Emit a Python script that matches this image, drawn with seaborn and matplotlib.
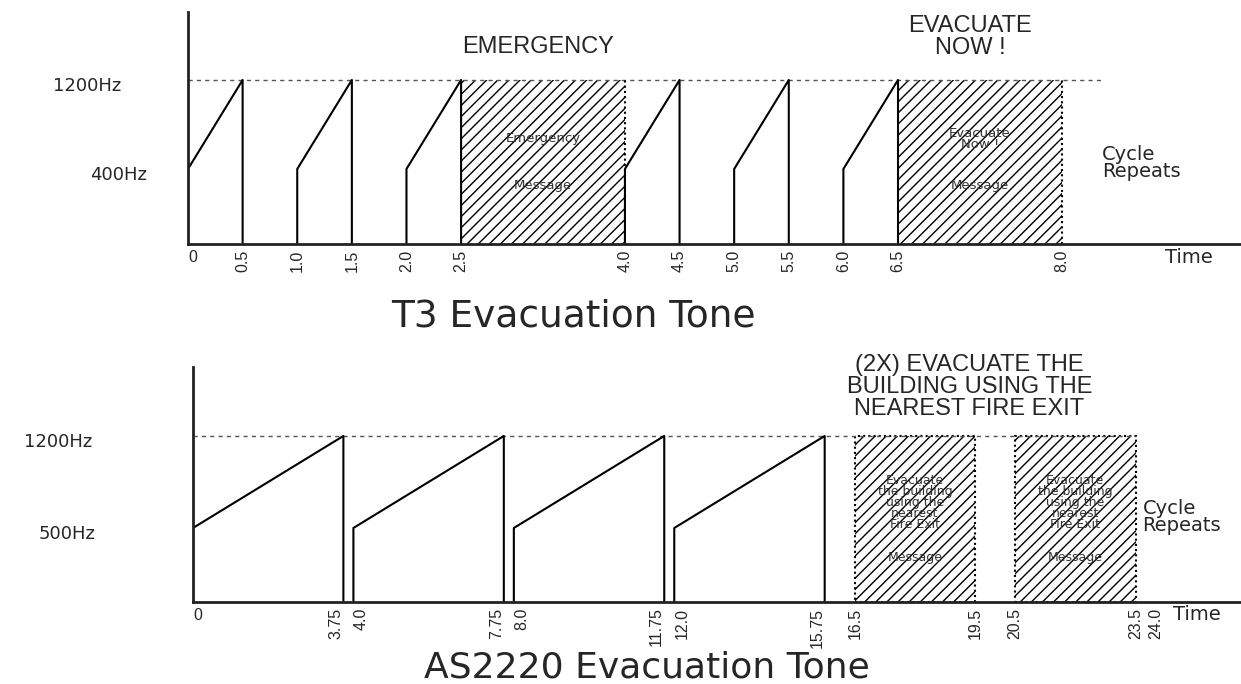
import pandas as pd
import matplotlib
matplotlib.use("Agg")
import matplotlib.pyplot as plt
import matplotlib.transforms as mtransforms
import seaborn as sns

# --- T3 evacuation tone ---
t3_ramp_start = [0.0, 1.0, 2.0, 4.0, 5.0, 6.0]
t3_ramp_end = [0.5, 1.5, 2.5, 4.5, 5.5, 6.5]
t3_low_hz = 400
t3_high_hz = 1200
t3_msg_start = [2.5, 6.5]
t3_msg_end = [4.0, 8.0]
t3_msg_text = ["Emergency", "Evacuate\nNow !"]
t3_ticks = [0, 0.5, 1.0, 1.5, 2.0, 2.5, 4.0, 4.5, 5.0, 5.5, 6.0, 6.5, 8.0]
t3_tick_labels = ["0", "0.5", "1.0", "1.5", "2.0", "2.5", "4.0", "4.5",
                  "5.0", "5.5", "6.0", "6.5", "8.0"]
t3_level_labels = ["400Hz", "1200Hz"]
t3_headings = ["EMERGENCY", "EVACUATE\nNOW !"]
t3_title = "T3 Evacuation Tone"

# --- AS2220 evacuation tone ---
as_ramp_start = [0.0, 4.0, 8.0, 12.0]
as_ramp_end = [3.75, 7.75, 11.75, 15.75]
as_low_hz = 500
as_high_hz = 1200
as_msg_start = [16.5, 20.5]
as_msg_end = [19.5, 23.5]
as_msg_text = "Evacuate\nthe building\nusing the\nnearest\nFire Exit"
as_ticks = [0, 3.75, 4.0, 7.75, 8.0, 11.75, 12.0, 15.75, 16.5, 19.5, 20.5, 23.5, 24.0]
as_tick_labels = ["0", "3.75", "4.0", "7.75", "8.0", "11.75", "12.0", "15.75",
                  "16.5", "19.5", "20.5", "23.5", "24.0"]
as_level_labels = ["500Hz", "1200Hz"]
as_heading = "(2X) EVACUATE THE\nBUILDING USING THE\nNEAREST FIRE EXIT"
as_title = "AS2220 Evacuation Tone"


def ramp_frame(starts, ends, low, high, base):
    rows = []
    for i, (s, e) in enumerate(zip(starts, ends)):
        rows += [(i, s, base), (i, s, low), (i, e, high), (i, e, base)]
    return pd.DataFrame(rows, columns=["seg", "t", "hz"])


sns.set_style("white")
plt.rcParams["font.family"] = ["Liberation Sans", "DejaVu Sans"]
plt.rcParams["hatch.linewidth"] = 1.0

fig = plt.figure(figsize=(12.41, 6.84), dpi=100)
ax1 = fig.add_axes([0.1515, 0.6433, 0.8485, 0.3392])
ax2 = fig.add_axes([0.1555, 0.1199, 0.8445, 0.3436])


def style_axes(ax, xlim, ylim, ticks, labels, drops=()):
    ax.set_xlim(*xlim)
    ax.set_ylim(*ylim)
    ax.set_xlabel("")
    ax.set_ylabel("")
    ax.set_yticks([])
    ax.set_xticks(ticks, labels)
    ax.tick_params(axis="x", length=0, pad=4, labelsize=11.5, labelrotation=90)
    for tick_val, lbl in zip(ticks, ax.get_xticklabels()):
        if lbl.get_text() == "0":
            lbl.set_rotation(0)
            lbl.set_horizontalalignment("left")
        elif tick_val in drops:
            # label sits just left of the drop line, next one just right
            lbl.set_horizontalalignment("right")
        elif any(abs(tick_val - d) < 0.3 for d in drops):
            lbl.set_horizontalalignment("left")
    for side in ["top", "right"]:
        ax.spines[side].set_visible(False)
    for side in ["left", "bottom"]:
        ax.spines[side].set_color("#222222")
        ax.spines[side].set_linewidth(2)


def level_text(ax, xfrac, y, text):
    tr = mtransforms.blended_transform_factory(ax.transAxes, ax.transData)
    tr = mtransforms.offset_copy(tr, fig=fig, y=-6, units="dots")
    ax.text(xfrac, y, text, ha="center", va="center", fontsize=13,
            family="DejaVu Sans", transform=tr, clip_on=False)


# ---------------- top panel ----------------
base1 = -274
df1 = ramp_frame(t3_ramp_start, t3_ramp_end, t3_low_hz, t3_high_hz, base1)
ax1.hlines(t3_high_hz, 0, 8.38, colors="#555555", linestyles=(0, (3, 3)), lw=1)
widths1 = [e - s for s, e in zip(t3_msg_start, t3_msg_end)]
ax1.bar(t3_msg_start, t3_high_hz - base1, width=widths1, bottom=base1, align="edge",
        color="none", edgecolor="black", hatch="///", linewidth=0)
ax1.vlines(t3_msg_end, base1, t3_high_hz, colors="black", linestyles=(0, (1, 1.5)), lw=1.5)
sns.lineplot(data=df1, x="t", y="hz", units="seg", estimator=None, sort=False,
             color="black", lw=1.5, ax=ax1, legend=False)
style_axes(ax1, (0, 9.64), (base1, 1811), t3_ticks, t3_tick_labels)

for s, e, txt in zip(t3_msg_start, t3_msg_end, t3_msg_text):
    mid = (s + e) / 2
    ax1.text(mid, 670, txt, ha="center", va="center", fontsize=9.5,
             family="DejaVu Sans", color="#333333", linespacing=0.85)
    ax1.text(mid, 250, "Message", ha="center", va="center", fontsize=9.5,
             family="DejaVu Sans", color="#333333")

level_text(ax1, -0.066, t3_low_hz, t3_level_labels[0])
level_text(ax1, -0.0959, t3_high_hz, t3_level_labels[1])

ax1.text(0.332, 0.849, t3_headings[0], transform=ax1.transAxes, ha="center",
         va="center", fontsize=17)
ax1.text(0.743, 0.890, t3_headings[1], transform=ax1.transAxes, ha="center",
         va="center", fontsize=17, linespacing=1.0)
ax1.text(0.868, 0.349, "Cycle\nRepeats", transform=ax1.transAxes, ha="left",
         va="center", fontsize=14, family="DejaVu Sans", linespacing=0.9)
ax1.text(0.928, -0.060, "Time", transform=ax1.transAxes, ha="left",
         va="center", fontsize=14, family="DejaVu Sans")

# ---------------- bottom panel ----------------
base2 = -63
df2 = ramp_frame(as_ramp_start, as_ramp_end, as_low_hz, as_high_hz, base2)
ax2.hlines(as_high_hz, 0, 23.5, colors="#555555", linestyles=(0, (3, 3)), lw=1)
widths2 = [e - s for s, e in zip(as_msg_start, as_msg_end)]
ax2.bar(as_msg_start, as_high_hz - base2, width=widths2, bottom=base2, align="edge",
        color="none", edgecolor="black", hatch="///", linewidth=1.5,
        linestyle=(0, (1, 1.5)))
sns.lineplot(data=df2, x="t", y="hz", units="seg", estimator=None, sort=False,
             color="black", lw=1.5, ax=ax2, legend=False)
style_axes(ax2, (0, 26.13), (base2, 1725), as_ticks, as_tick_labels,
           drops=as_ramp_end)

for s, e in zip(as_msg_start, as_msg_end):
    mid = (s + e) / 2
    ax2.text(mid, 694, as_msg_text, ha="center", va="center", fontsize=9,
             family="DejaVu Sans", color="#333333", linespacing=0.8)
    ax2.text(mid, 279, "Message", ha="center", va="center", fontsize=9,
             family="DejaVu Sans", color="#333333")

level_text(ax2, -0.1198, as_low_hz, as_level_labels[0])
level_text(ax2, -0.1288, as_high_hz, as_level_labels[1])

ax2.text(0.741, 0.913, as_heading, transform=ax2.transAxes, ha="center",
         va="center", fontsize=17, linespacing=1.0)
ax2.text(0.906, 0.362, "Cycle\nRepeats", transform=ax2.transAxes, ha="left",
         va="center", fontsize=14, family="DejaVu Sans", linespacing=0.9)
ax2.text(0.935, -0.055, "Time", transform=ax2.transAxes, ha="left",
         va="center", fontsize=14, family="DejaVu Sans")

# titles
fig.text(0.4617, 0.522, t3_title, ha="center", va="baseline", fontsize=27,
         family="DejaVu Sans")
fig.text(0.5213, 0.009, as_title, ha="center", va="baseline", fontsize=26,
         family="DejaVu Sans")

fig.savefig("out.png", dpi=100)
plt.close(fig)
